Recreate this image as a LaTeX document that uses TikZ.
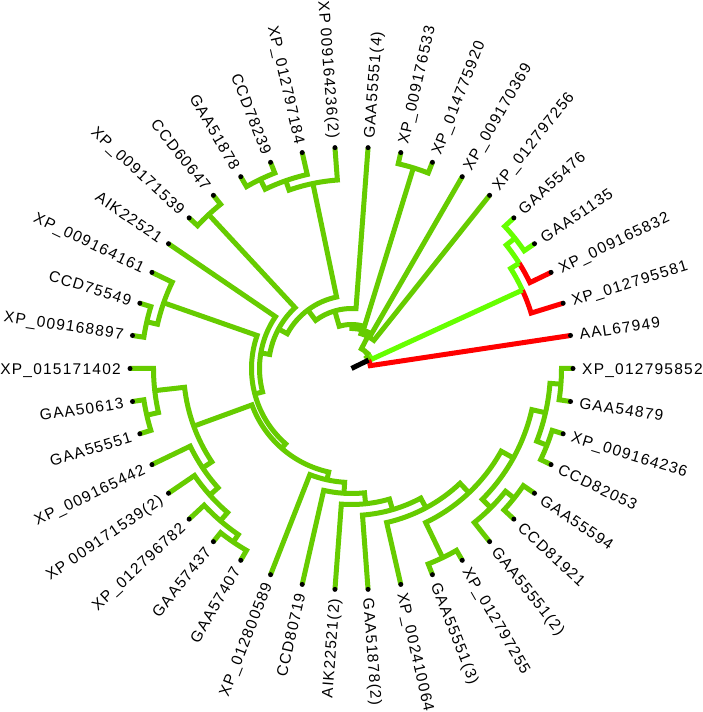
\documentclass[tikz,border=0pt]{standalone}
\usepackage{fontspec}
\setmainfont{Liberation Sans}[LetterSpace=8]
\definecolor{brg}{RGB}{102,204,0}
\definecolor{brl}{RGB}{102,255,0}
\definecolor{brr}{RGB}{255,0,0}
\newcommand\brnode[6][brg]{\draw[br,#1] (#2:#3) -- (#2:#6) arc[start angle=#2,end angle=#4,radius=#6] -- (#4:#5);}
\begin{document}
\begin{tikzpicture}[x=1pt,y=1pt,
  br/.style={line width=5pt, line join=miter},
  lab/.style={font=\fontsize{15.5}{16}\selectfont, inner sep=0pt, text height=11.1pt, text depth=0pt}]
\useasboundingbox (0,0) rectangle (703,712);
\fill[white] (0,0) rectangle (703,712);
\begin{scope}[shift={(351.5,343.5)}]
\def\LR{221.5}
% light green / red clade
\brnode[brl]{42.857}{\LR}{34.286}{\LR}{209}
\draw[br,brr] (25.714:\LR) -- (25.714:198) arc[start angle=25.714,end angle=32.143,radius=198];
\draw[br,brl] (32.143:198) arc[start angle=32.143,end angle=38.571,radius=198] -- (38.571:209);
\draw[br,brr] (17.143:\LR) -- (17.143:188) arc[start angle=17.143,end angle=24.643,radius=188];
\draw[br,brl] (24.643:188) arc[start angle=24.643,end angle=32.143,radius=188] -- (32.143:198);
% top
\brnode{68.571}{\LR}{77.143}{\LR}{210}
\brnode{111.429}{\LR}{120}{\LR}{210}
\brnode{102.857}{\LR}{115.714}{210}{199}
\brnode{94.286}{\LR}{109.286}{199}{189}
\brnode{128.571}{\LR}{137.143}{\LR}{210}
\brnode{162.857}{\LR}{171.429}{\LR}{210}
\brnode{154.286}{\LR}{167.143}{210}{199}
% left bottom
\brnode{188.571}{\LR}{197.143}{\LR}{210}
\brnode{180}{\LR}{192.857}{210}{198}
\brnode{231.429}{\LR}{240}{\LR}{210}
\brnode{222.857}{\LR}{235.714}{210}{201}
\brnode{214.286}{\LR}{229.286}{201}{190}
\brnode{205.714}{\LR}{221.786}{190}{179}
\brnode{186.429}{198}{213.75}{179}{168}
% bottom right
\brnode{351.429}{\LR}{360}{\LR}{210}
\brnode{334.286}{\LR}{342.857}{\LR}{210}
\brnode{338.571}{210}{355.714}{210}{199}
\brnode{317.143}{\LR}{325.714}{\LR}{208}
\brnode{308.571}{\LR}{321.429}{208}{197}
\brnode{315}{197}{347.143}{199}{185}
\brnode{291.429}{\LR}{300}{\LR}{210}
\brnode{295.714}{210}{331.071}{185}{171}
\brnode{282.857}{\LR}{313.393}{171}{158}
\brnode{274.286}{\LR}{298.125}{158}{147}
\brnode{265.714}{\LR}{286.205}{147}{136}
\brnode{257.143}{\LR}{275.96}{136}{125}
\brnode{248.571}{\LR}{266.55}{125}{114}
% backbone
\brnode{200.09}{168}{257.56}{114}{106}
\brnode{160.714}{199}{228.82}{106}{100}
\brnode{145.714}{\LR}{194.77}{100}{92}
\brnode{132.857}{210}{170.24}{92}{83}
\brnode{101.786}{189}{151.55}{83}{73}
\brnode{85.714}{\LR}{126.67}{73}{60}
\brnode{72.857}{210}{106.19}{60}{44}
\brnode{60}{\LR}{89.52}{44}{40}
\brnode{51.429}{\LR}{74.76}{40}{36}
% root region
\draw[br,brl] (24.643:188) -- (24.643:22) arc[start angle=24.643,end angle=43.87,radius=22];
\draw[br,brg] (43.87:19) -- (43.87:22) arc[start angle=43.87,end angle=63.1,radius=22] -- (63.1:36);
\draw[br,brg] (26.22:19) arc[start angle=26.22,end angle=43.87,radius=19];
\draw[br,brr] (8.571:\LR) -- (8.571:19) arc[start angle=8.571,end angle=26.22,radius=19];
\draw[br,black] (26.22:0) -- (26.22:19);
% leaves
\pgfmathsetmacro\rl{\LR+9}
\foreach \i/\t in {0/XP\_012795852,1/AAL67949,2/XP\_012795581,3/XP\_009165832,4/GAA51135,5/GAA55476,6/XP\_012797256,7/XP\_009170369,8/XP\_014775920,9/XP\_009176533,10/GAA55551(4),11/XP 009164236(2),12/XP\_012797184,13/CCD78239,14/GAA51878,15/CCD60647,16/XP\_009171539,17/AIK22521,18/XP\_009164161,19/CCD75549,20/XP\_009168897,21/XP\_015171402,22/GAA50613,23/GAA55551,24/XP\_009165442,25/XP 009171539(2),26/XP\_012796782,27/GAA57437,28/GAA57407,29/XP\_012800589,30/CCD80719,31/AIK22521(2),32/GAA51878(2),33/XP\_002410064,34/GAA55551(3),35/XP\_012797255,36/GAA55551(2),37/CCD81921,38/GAA55594,39/CCD82053,40/XP\_009164236,41/GAA54879}{
  \pgfmathsetmacro\a{\i*360/42}
  \fill (\a:\LR) circle[radius=2.5];
  \ifnum\i>10
    \ifnum\i<32
      \node[lab,anchor=east,rotate=\a-180] (l\i) at (\a:\rl) {\t};
    \else
      \node[lab,anchor=west,rotate=\a] (l\i) at (\a:\rl) {\t};
    \fi
  \else
    \node[lab,anchor=west,rotate=\a] (l\i) at (\a:\rl) {\t};
  \fi
}
\end{scope}
\end{tikzpicture}
\end{document}
